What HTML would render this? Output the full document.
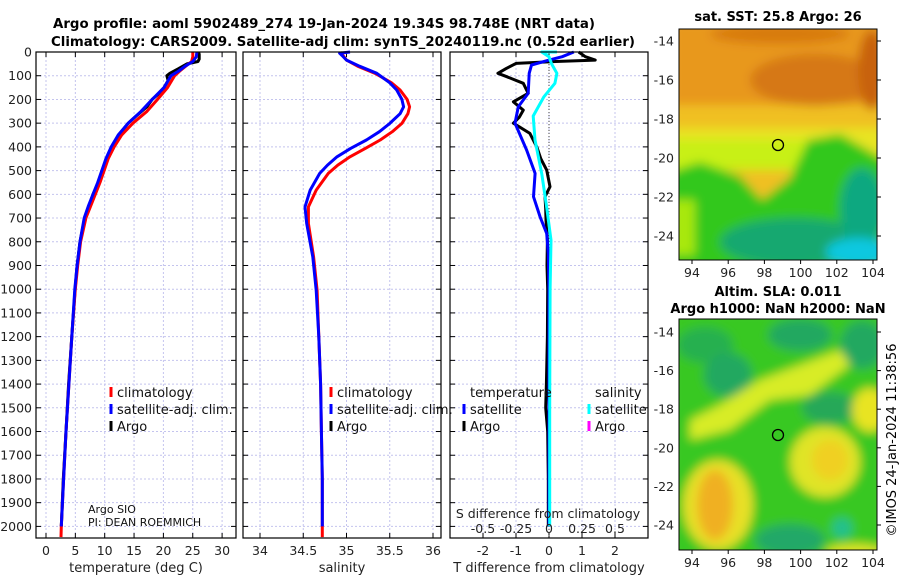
<!DOCTYPE html>
<html><head><meta charset="utf-8"><style>
html,body{margin:0;padding:0;background:#fff;}
svg{display:block;font-family:"DejaVu Sans","Liberation Sans",sans-serif;}
</style></head><body>
<svg id="fig" width="900" height="580" viewBox="0 0 900 580">
<defs>
<filter id="blur" x="-10%" y="-10%" width="120%" height="120%"><feGaussianBlur stdDeviation="5"/></filter>
<clipPath id="c1"><rect x="679" y="29" width="198" height="231"/></clipPath>
<clipPath id="c2"><rect x="679" y="319" width="198" height="231"/></clipPath>
</defs>
<text x="324" y="28" text-anchor="middle" font-size="13" font-weight="bold" textLength="542" lengthAdjust="spacingAndGlyphs">Argo profile: aoml 5902489_274 19-Jan-2024 19.34S 98.748E (NRT data)</text>
<text x="343" y="46" text-anchor="middle" font-size="13" font-weight="bold" textLength="584" lengthAdjust="spacingAndGlyphs">Climatology: CARS2009. Satellite-adj clim: synTS_20240119.nc (0.52d earlier)</text>

<g>
<g clip-path="url(#c1)"><g filter="url(#blur)">
<rect x="670" y="20" width="215" height="250" fill="#f0c020"/>
<rect x="670" y="20" width="215" height="85" fill="#e8981a"/>
<ellipse cx="815" cy="80" rx="65" ry="26" fill="#d67812"/>
<ellipse cx="872" cy="70" rx="14" ry="40" fill="#c8620e"/>
<ellipse cx="780" cy="34" rx="70" ry="10" fill="#d87a10"/>
<rect x="670" y="128" width="215" height="30" fill="#e8e420"/>
<rect x="670" y="140" width="140" height="30" fill="#c8f018"/>
<polygon points="670,172 700,162 740,176 762,200 790,178 808,140 840,134 885,160 885,270 670,270" fill="#30c81a"/>
<rect x="670" y="200" width="25" height="55" fill="#a8e810"/>
<ellipse cx="795" cy="242" rx="75" ry="24" fill="#18a870"/>
<ellipse cx="862" cy="208" rx="22" ry="40" fill="#10a880"/>
<ellipse cx="858" cy="252" rx="32" ry="14" fill="#10c8e0"/>
</g></g>
<rect x="679" y="29" width="198" height="231" fill="none" stroke="#000" stroke-width="1"/>
<circle cx="778" cy="145" r="5.5" fill="none" stroke="#000" stroke-width="1.3"/>
</g>
<text x="778" y="21" text-anchor="middle" font-size="13" font-weight="bold">sat. SST: 25.8 Argo: 26</text>
<text x="778" y="296" text-anchor="middle" font-size="13" font-weight="bold">Altim. SLA: 0.011</text>
<text x="778" y="313" text-anchor="middle" font-size="13" font-weight="bold">Argo h1000: NaN h2000: NaN</text>

<g>
<g clip-path="url(#c2)"><g filter="url(#blur)">
<rect x="670" y="310" width="215" height="250" fill="#38c820"/>
<ellipse cx="705" cy="345" rx="28" ry="18" fill="#28b050"/>
<ellipse cx="728" cy="375" rx="24" ry="22" fill="#20a860"/>
<ellipse cx="800" cy="335" rx="32" ry="16" fill="#20a860"/>
<ellipse cx="862" cy="345" rx="22" ry="24" fill="#20a860"/>
<ellipse cx="830" cy="408" rx="28" ry="16" fill="#28a858"/>
<polygon points="690,420 720,405 760,380 800,365 840,350 850,365 810,395 770,400 730,430 690,440" fill="#d8ec28"/>
<ellipse cx="870" cy="410" rx="18" ry="22" fill="#e8e420"/>
<ellipse cx="825" cy="462" rx="35" ry="35" fill="#e0e428"/>
<ellipse cx="830" cy="460" rx="18" ry="20" fill="#f0d020"/>
<ellipse cx="718" cy="505" rx="35" ry="45" fill="#e8e028"/>
<ellipse cx="715" cy="505" rx="18" ry="35" fill="#f0b020"/>
<ellipse cx="790" cy="540" rx="35" ry="16" fill="#20a868"/>
<ellipse cx="842" cy="528" rx="10" ry="10" fill="#20c090"/>
<ellipse cx="855" cy="552" rx="30" ry="8" fill="#e0e428"/>
</g></g>
<rect x="679" y="319" width="198" height="231" fill="none" stroke="#000" stroke-width="1"/>
<circle cx="778" cy="435" r="5.5" fill="none" stroke="#000" stroke-width="1.3"/>
</g>
<text transform="translate(896,440) rotate(-90)" text-anchor="middle" font-size="13">©IMOS 24-Jan-2024 11:38:56</text>
<g id="dyn"></g>
</svg>
<script>
const depthTicks = [0,100,200,300,400,500,600,700,800,900,1000,1100,1200,1300,1400,1500,1600,1700,1800,1900,2000];
const tTicks = [0,5,10,15,20,25,30];
const sTicks = [34,34.5,35,35.5,36];
const sTickLabels = ["34","34.5","35","35.5","36"];
const dtTicks = [-2,-1,0,1,2];
const dsTicks = [-0.5,-0.25,0,0.25,0.5];
const dsTickLabels = ["-0.5","-0.25","0","0.25","0.5"];

const tClimDepth = [0,20,40,60,80,100,150,200,250,300,350,400,450,500,550,600,650,700,800,900,1000,1200,1400,1600,1800,2000,2045];
const tClim = [25.0,25.0,24.8,23.8,22.8,21.9,20.7,19.0,17.2,14.8,12.9,11.6,10.6,9.9,9.2,8.4,7.6,6.8,5.9,5.4,5.0,4.4,3.9,3.4,3.0,2.6,2.55];
const tSatDepth = [0,20,40,60,80,100,150,200,250,300,350,400,450,500,550,600,650,700,800,900,1000,1200,1400,1600,1800,2000];
const tSat = [25.7,25.6,25.0,23.7,22.6,21.3,20.1,18.1,16.2,14.0,12.3,11.1,10.2,9.5,8.8,8.0,7.2,6.5,5.8,5.3,4.9,4.4,3.9,3.4,3.0,2.6];
const tArgoDepth = [0,10,30,40,50,70,90,100,120,150,180,200,230,250,280,300,350,400,450,500,550,600,650,700,800,900,1000,1200,1400,1600,1800,2000];
const tArgo = [26.0,26.1,26.1,25.9,24.0,22.6,21.1,20.6,20.8,20.1,19.0,18.1,17.2,16.3,14.9,14.0,12.4,11.2,10.3,9.6,8.9,8.0,7.3,6.6,5.8,5.3,4.95,4.4,3.85,3.4,2.95,2.6];

const sDepth = [0,5,15,34,60,90,130,160,200,231,260,301,336,371,406,442,477,512,582,653,723,864,1005,1200,1400,1600,1800,2000];
const sSat = [35.04,34.92,34.95,35.0,35.15,35.35,35.50,35.58,35.64,35.66,35.62,35.50,35.38,35.23,35.05,34.89,34.78,34.69,34.58,34.52,34.54,34.61,34.65,34.68,34.70,34.71,34.72,34.72];
const sClimDepth = [0,5,15,34,60,90,130,160,200,231,260,301,336,371,406,442,477,512,582,653,723,864,1005,1200,1400,1600,1800,2000,2045];
const sClim = [34.96,34.95,34.96,35.0,35.13,35.33,35.52,35.62,35.70,35.73,35.71,35.64,35.53,35.39,35.22,35.04,34.90,34.79,34.65,34.56,34.56,34.62,34.66,34.68,34.70,34.71,34.72,34.72,34.72];

const dArgoDepth = [0,20,34,40,48,70,90,104,132,174,210,245,275,300,343,400,450,498,568,610,660,709,793,900,1000,1200,1400,1500,1600,1800,2000];
const dArgo = [0.9,1.1,1.4,0.2,-1.0,-1.3,-1.55,-1.28,-0.78,-0.63,-1.08,-0.78,-0.9,-1.08,-0.58,-0.37,-0.25,-0.07,0.03,-0.12,-0.1,-0.09,-0.05,-0.06,-0.04,-0.05,-0.08,-0.1,-0.04,-0.02,-0.02];
const dSatDepth = [0,20,34,55,90,174,231,300,413,512,610,695,765,850,1000,1500,2000];
const dSat = [0.75,0.4,0,-0.53,-0.6,-0.63,-0.93,-1.03,-0.68,-0.42,-0.47,-0.27,-0.07,-0.02,0,0,0];
const dSSatDepth = [0,0,20,50,90,132,190,270,371,512,652,793,1000,1500,2000];
const dSSat = [0.06,-0.055,0.0,0.02,0.06,0.045,-0.04,-0.12,-0.106,-0.055,-0.018,0.015,0.008,0.005,0.005];

const mapLats = [-14,-16,-18,-20,-22,-24];
const mapLons = [94,96,98,100,102,104];

const TOP=52, BOT=538;
const yD = d => 52 + d*0.2372;
const xT = v => 46 + v*5.87;
const xS = v => 260 + (v-34)*86.5;
const xDT = v => 549 + v*33;
const xDS = v => 549 + v*132;
const panels = [[36,236],[243,441],[450,648]];

const NS="http://www.w3.org/2000/svg";
const root=document.getElementById('dyn');
function mk(tag, attrs, txt){const e=document.createElementNS(NS,tag);for(const k in attrs)e.setAttribute(k,attrs[k]);if(txt!==undefined)e.textContent=txt;root.appendChild(e);return e;}

panels.forEach((p,pi)=>{
  depthTicks.forEach(d=>{
    const g=mk('line',{x1:p[0],x2:p[1],y1:yD(d),y2:yD(d),stroke:'#c4c4ee','stroke-width':1,'stroke-dasharray':'2,2'});
    
    
    const t1=mk('line',{x1:p[0],x2:p[0]+5,y1:yD(d),y2:yD(d),stroke:'#000'});
    
    
    const t2=mk('line',{x1:p[1]-5,x2:p[1],y1:yD(d),y2:yD(d),stroke:'#000'});
    
    
  });
});
const xTickSets=[[tTicks,xT,tTicks.map(String)],[sTicks,xS,sTickLabels],[dtTicks,xDT,dtTicks.map(String)]];
xTickSets.forEach((set,pi)=>{
  set[0].forEach((v,i)=>{
    const x=set[1](v);
    const g=mk('line',{x1:x,x2:x,y1:TOP,y2:BOT,stroke:'#c4c4ee','stroke-width':1,'stroke-dasharray':'2,2'});
    
    
    const a=mk('line',{x1:x,x2:x,y1:TOP,y2:TOP+5,stroke:'#000'});
    
    
    const b=mk('line',{x1:x,x2:x,y1:BOT-5,y2:BOT,stroke:'#000'});
    
    
    const l=mk('text',{x:x,y:555,'text-anchor':'middle','font-size':12.5,fill:'#222'},set[2][i]);
    
    
  });
});
depthTicks.forEach(d=>{
  const l=mk('text',{x:32,y:yD(d)+4.5,'text-anchor':'end','font-size':12.5,fill:'#222'},String(d));
  
  
});
const zl=mk('line',{x1:549,x2:549,y1:TOP,y2:BOT,stroke:'#444','stroke-width':1,'stroke-dasharray':'1,2'});



function line(ds,vs,xf,color,w,name){
  const pts=ds.map((d,i)=>xf(vs[i]).toFixed(1)+','+yD(d).toFixed(1)).join(' ');
  const e=mk('polyline',{points:pts,fill:'none',stroke:color,'stroke-width':w,'stroke-linejoin':'round'});
  
  
}
line(tArgoDepth,tArgo,xT,'#000',3,'argo-temperature-line');
line(tClimDepth,tClim,xT,'#ff0000',3,'clim-temperature-line');
line(tSatDepth,tSat,xT,'#0000ff',3,'satellite-temperature-line');
line(sClimDepth,sClim,xS,'#ff0000',3,'clim-salinity-line');
line(sDepth,sSat,xS,'#0000ff',3,'satellite-salinity-line');
line(dArgoDepth,dArgo,xDT,'#000',3,'argo-temp-diff-line');
line(dSatDepth,dSat,xDT,'#0000ff',3,'satellite-temp-diff-line');
line(dSSatDepth,dSSat,xDS,'#00ffff',3,'satellite-sal-diff-line');

panels.forEach(p=>{
  const f=mk('rect',{x:p[0],y:TOP,width:p[1]-p[0],height:BOT-TOP,fill:'none',stroke:'#000','stroke-width':1.2});
  
  
});

dsTicks.forEach((v,i)=>{
  const l=mk('text',{x:xDS(v),y:533,'text-anchor':'middle','font-size':12.5,fill:'#222'},dsTickLabels[i]);
  
  
});
const st=mk('text',{x:548,y:518,'text-anchor':'middle','font-size':12.5,fill:'#222'},'S difference from climatology');



[['temperature (deg C)',136,'temperature-axis-title'],['salinity',342,'salinity-axis-title'],['T difference from climatology',549,'t-diff-axis-title']].forEach(a=>{
  const l=mk('text',{x:a[1],y:572,'text-anchor':'middle','font-size':13,fill:'#222'},a[0]);
  
  
});

function legend(x,y,color,label,name){
  const m=mk('rect',{x:x-1.5,y:y-10,width:3,height:10,fill:color});
  
  
  const t=mk('text',{x:x+6,y:y,'font-size':13,fill:'#111'},label);
  
  
}
[[111,'legend-t'],[331,'legend-s']].forEach(L=>{
  legend(L[0],397,'#ff0000','climatology',L[1]+'-climatology');
  legend(L[0],414,'#0000ff','satellite-adj. clim.',L[1]+'-satellite');
  legend(L[0],431,'#000','Argo',L[1]+'-argo');
});
const lt=mk('text',{x:470,y:397,'font-size':13,fill:'#111'},'temperature');


const ls=mk('text',{x:595,y:397,'font-size':13,fill:'#111'},'salinity');


legend(464,414,'#0000ff','satellite','legend-dt-satellite');
legend(464,431,'#000','Argo','legend-dt-argo');
legend(589,414,'#00ffff','satellite','legend-ds-satellite');
legend(589,431,'#ff00ff','Argo','legend-ds-argo');

const a1=mk('text',{x:88,y:513,'font-size':11,fill:'#111'},'Argo SIO');


const a2=mk('text',{x:88,y:526,'font-size':11,fill:'#111'},'PI: DEAN ROEMMICH');



// map ticks: [lat -14 y, px per 2deg, top, bottom, lon label y]
[[41,39,29,260,272],[332,38.6,319,550,562]].forEach((M,mi)=>{
  mapLats.forEach((lat,i)=>{
    const y=M[0]+i*M[1];
    const l=mk('text',{x:674,y:y+4.5,'text-anchor':'end','font-size':12.5,fill:'#222'},String(lat));
    
    
    const t=mk('line',{x1:877,x2:881,y1:y,y2:y,stroke:'#000'});
    
    
  });
  mapLons.forEach((lon,i)=>{
    const x=692+(lon-94)*18.1;
    const l=mk('text',{x:x,y:M[4]+5,'text-anchor':'middle','font-size':12.5,fill:'#222'},String(lon));
    
    
    const t=mk('line',{x1:x,x2:x,y1:M[3],y2:M[3]+4,stroke:'#000'});
    
    
  });
});
</script>
</body></html>
